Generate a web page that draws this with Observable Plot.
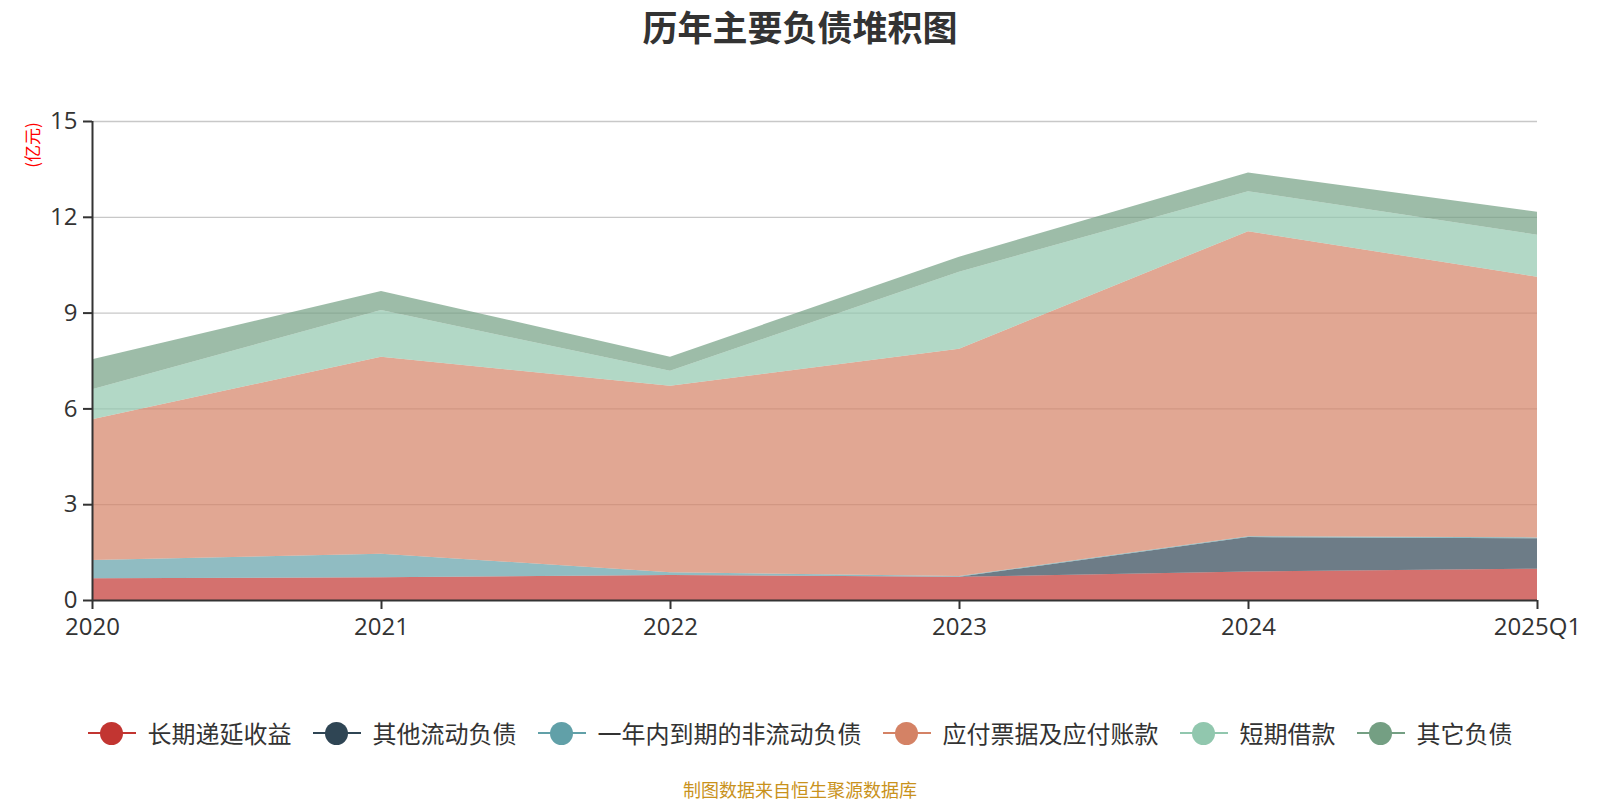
<!DOCTYPE html>
<html>
<head>
<meta charset="utf-8">
<script src="https://cdn.jsdelivr.net/npm/d3@7"></script>
<script src="https://cdn.jsdelivr.net/npm/@observablehq/plot@0.6"></script>
<style>
  html, body { margin: 0; padding: 0; background: #fff; }
  body { width: 1600px; height: 800px; overflow: hidden; font-family: "Noto Sans CJK SC", "Noto Sans", sans-serif; }
  #wrap { position: relative; width: 1600px; height: 800px; }
  #title { position: absolute; top: 25px; left: 0; width: 1600px; text-align: center; font-size: 35px; line-height: 35px; font-weight: bold; color: #333; transform: translateY(-50%); }
  #unit { position: absolute; left: 31px; top: 145px; transform: translate(-50%, -50%) rotate(-90deg); color: #ff0000; font-size: 17px; line-height: 17px; white-space: nowrap; }
  #legend { position: absolute; top: 733px; left: 0; width: 1600px; display: flex; justify-content: center; align-items: center; gap: 21px; font-size: 24px; line-height: 24px; color: #333; transform: translateY(-50%); }
  .item { display: flex; align-items: center; gap: 12px; }
  .sw { position: relative; width: 48px; height: 24px; }
  .sw .ln { position: absolute; left: 0; top: 11px; width: 48px; height: 2px; }
  .sw .dot { position: absolute; left: 12px; top: 1px; width: 23px; height: 23px; border-radius: 50%; }
  #foot { position: absolute; top: 789px; left: 0; width: 1600px; text-align: center; font-size: 18px; line-height: 18px; color: #c9921c; transform: translateY(-50%); }
  #chart { position: absolute; left: 0; top: 0; }
</style>
</head>
<body>
<div id="wrap">
  <div id="chart"></div>
  <div id="title"></div>
  <div id="unit"></div>
  <div id="legend"></div>
  <div id="foot"></div>
</div>
<script>
const titleText = "历年主要负债堆积图";
const unitText = "(亿元)";
const footText = "制图数据来自恒生聚源数据库";
const periods = ["2020", "2021", "2022", "2023", "2024", "2025Q1"];
const seriesNames = ["长期递延收益", "其他流动负债", "一年内到期的非流动负债", "应付票据及应付账款", "短期借款", "其它负债"];
const seriesColors = ["#c23531", "#2f4554", "#61a0a8", "#d48265", "#91c7ae", "#749f83"];
const yTicks = [0, 3, 6, 9, 12, 15];

const longDeferred   = [0.68, 0.71, 0.78, 0.73, 0.89, 0.98];
const otherCurrent   = [0.00, 0.00, 0.00, 0.00, 1.08, 0.95];
const dueWithinYear  = [0.57, 0.74, 0.09, 0.02, 0.03, 0.03];
const payables       = [4.41, 6.17, 5.84, 7.12, 9.55, 8.16];
const shortLoans     = [0.94, 1.46, 0.47, 2.41, 1.25, 1.32];
const otherLiab      = [0.94, 0.60, 0.44, 0.47, 0.59, 0.72];

const seriesValues = [longDeferred, otherCurrent, dueWithinYear, payables, shortLoans, otherLiab];

const data = [];
seriesNames.forEach((s, i) => {
  periods.forEach((p, j) => data.push({period: p, series: s, value: seriesValues[i][j]}));
});

document.getElementById("title").textContent = titleText;
document.getElementById("unit").textContent = unitText;
document.getElementById("foot").textContent = footText;

const legend = document.getElementById("legend");
seriesNames.forEach((s, i) => {
  const it = document.createElement("div");
  it.className = "item";
  it.innerHTML = `<div class="sw"><div class="ln" style="background:${seriesColors[i]}"></div><div class="dot" style="background:${seriesColors[i]}"></div></div><span></span>`;
  it.querySelector("span").textContent = s;
  legend.appendChild(it);
});

const font = "'Open Sans', 'Noto Sans CJK SC', sans-serif";
const chart = Plot.plot({
  width: 1600,
  height: 800,
  marginLeft: 92,
  marginRight: 63,
  marginTop: 121,
  marginBottom: 200,
  style: {fontFamily: font, background: "transparent", color: "#333"},
  x: {type: "point", domain: periods, padding: 0, label: null},
  y: {domain: [0, 15], label: null},
  color: {domain: seriesNames, range: seriesColors},
  marks: [
    Plot.gridY(yTicks.slice(1), {stroke: "#c8c8c8", strokeOpacity: 1, strokeWidth: 1.3}),
    Plot.areaY(data, {x: "period", y: "value", fill: "series", order: seriesNames, fillOpacity: 0.7, curve: "linear"}),
    Plot.ruleY([0], {stroke: "#333", strokeWidth: 2}),
    Plot.ruleX([periods[0]], {y1: 0, y2: 15, stroke: "#333", strokeWidth: 2}),
    Plot.axisY({ticks: yTicks, tickSize: 9, tickPadding: 6, fontSize: 24, stroke: "#333", strokeWidth: 2, fill: "#333", label: null}),
    Plot.axisX({tickSize: 9, tickPadding: 8, fontSize: 24, stroke: "#333", strokeWidth: 2, fill: "#333", label: null})
  ]
});
document.getElementById("chart").appendChild(chart);
</script>
</body>
</html>
